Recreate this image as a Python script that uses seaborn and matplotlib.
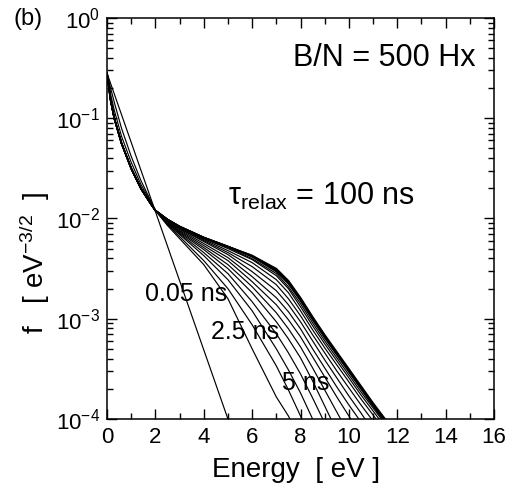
import numpy as np
import pandas as pd
import matplotlib
matplotlib.use("Agg")
import matplotlib.pyplot as plt
import seaborn as sns
from matplotlib.ticker import LogLocator, MultipleLocator, NullFormatter

# ---------------- data (log10 of f) ----------------
E_low = [0.0, 0.15, 0.3, 0.6, 1.0, 1.4, 1.8]
E_high = [2.0, 2.5, 3.0, 4.0, 5.0, 6.0, 7.0, 7.5, 8.0, 8.5, 9.0, 9.5, 10.0, 10.5, 11.0, 11.5, 12.0]

# 0.05 ns curve (nearly Maxwellian)
E_005 = [0.0, 1.0, 2.0, 3.0, 4.0, 5.0, 5.3]
lg_005 = [-0.55, -1.24, -1.93, -2.62, -3.31, -4.00, -4.21]

# low-energy parts
low_cluster = [-0.55, -0.82, -1.00, -1.25, -1.50, -1.70, -1.85]
low_c1 = [-0.55, -0.70, -0.84, -1.10, -1.38, -1.62, -1.82]
low_c2 = [-0.55, -0.76, -0.92, -1.18, -1.44, -1.66, -1.83]

# high-energy parts, from earliest (2.5 ns) to latest
hi_c1 = [-1.92, -2.07, -2.20, -2.46, -2.80, -3.30, -3.78, -3.97, -4.20]
hi_c2 = [-1.92, -2.06, -2.18, -2.42, -2.70, -3.06, -3.47, -3.71, -3.97, -4.25]
hi_c3 = [-1.92, -2.05, -2.16, -2.37, -2.61, -2.92, -3.30, -3.51, -3.74, -4.00, -4.28]
hi_c4 = [-1.92, -2.05, -2.15, -2.34, -2.55, -2.83, -3.15, -3.34, -3.55, -3.79, -4.04, -4.30]
hi_c5 = [-1.92, -2.04, -2.14, -2.31, -2.50, -2.74, -3.03, -3.20, -3.39, -3.62, -3.87, -4.12]
hi_c6 = [-1.92, -2.04, -2.13, -2.29, -2.46, -2.68, -2.94, -3.10, -3.28, -3.49, -3.71, -3.93, -4.15]
hi_c7 = [-1.92, -2.03, -2.12, -2.27, -2.42, -2.63, -2.86, -3.01, -3.18, -3.38, -3.58, -3.78, -3.97, -4.16]
hi_c8 = [-1.92, -2.03, -2.11, -2.25, -2.39, -2.58, -2.79, -2.93, -3.10, -3.30, -3.49, -3.68, -3.86, -4.03, -4.20]
hi_c9 = [-1.92, -2.02, -2.10, -2.23, -2.36, -2.53, -2.72, -2.86, -3.03, -3.22, -3.41, -3.59, -3.77, -3.94, -4.12]
hi_c10 = [-1.92, -2.02, -2.10, -2.22, -2.34, -2.48, -2.66, -2.80, -2.97, -3.16, -3.34, -3.52, -3.69, -3.86, -4.02, -4.20]
hi_c11 = [-1.92, -2.02, -2.09, -2.21, -2.32, -2.44, -2.61, -2.74, -2.92, -3.11, -3.29, -3.46, -3.63, -3.80, -3.96, -4.12]
hi_c12 = [-1.92, -2.01, -2.09, -2.20, -2.30, -2.41, -2.57, -2.70, -2.88, -3.07, -3.25, -3.42, -3.59, -3.76, -3.92, -4.08]
hi_c13 = [-1.92, -2.01, -2.08, -2.20, -2.29, -2.40, -2.55, -2.68, -2.85, -3.04, -3.22, -3.39, -3.56, -3.73, -3.89, -4.05]
hi_f1 = [-1.92, -2.01, -2.08, -2.19, -2.28, -2.38, -2.52, -2.64, -2.81, -3.00, -3.18, -3.35, -3.52, -3.69, -3.86, -4.02, -4.19]
hi_f2 = [-1.92, -2.01, -2.08, -2.19, -2.28, -2.37, -2.51, -2.63, -2.80, -2.99, -3.17, -3.34, -3.51, -3.68, -3.85, -4.01, -4.18]
hi_f3 = [-1.92, -2.01, -2.08, -2.19, -2.28, -2.38, -2.53, -2.65, -2.82, -3.01, -3.19, -3.36, -3.53, -3.70, -3.87, -4.03, -4.20]
hi_f4 = [-1.92, -2.01, -2.08, -2.19, -2.28, -2.37, -2.50, -2.62, -2.79, -2.98, -3.16, -3.33, -3.50, -3.67, -3.84, -4.00, -4.17]

# labels
label_b = "(b)"
label_field = "B/N = 500 Hx"
label_tau = r"τ$_{\mathrm{relax}}$ = 100 ns"
time_labels = ["0.05 ns", "2.5 ns", "5 ns"]

# ---------------- build long table ----------------
rows = []
def add(name, E, lg, group):
    for e, v in zip(E, lg):
        rows.append((name, e, 10.0 ** v, group))

add("0.05", E_005, lg_005, "thin")
add("c1", E_low + E_high[:len(hi_c1)], low_c1 + hi_c1, "thin")
add("c2", E_low + E_high[:len(hi_c2)], low_c2 + hi_c2, "thin")
for nm, hi in [("c3", hi_c3), ("c4", hi_c4), ("c5", hi_c5), ("c6", hi_c6),
               ("c7", hi_c7), ("c8", hi_c8), ("c9", hi_c9), ("c10", hi_c10),
               ("c11", hi_c11), ("c12", hi_c12), ("c13", hi_c13)]:
    add(nm, E_low + E_high[:len(hi)], low_cluster + hi, "thin")
for nm, hi in [("f1", hi_f1), ("f2", hi_f2), ("f3", hi_f3), ("f4", hi_f4)]:
    add(nm, E_low + E_high[:len(hi)], low_cluster + hi, "final")

df = pd.DataFrame(rows, columns=["curve", "E", "f", "group"])

# ---------------- style ----------------
sns.set_theme(style="ticks")
plt.rcParams.update({
    "font.family": ["Liberation Sans", "DejaVu Sans"],
    "mathtext.fontset": "custom",
    "mathtext.rm": "Liberation Sans",
    "mathtext.it": "Liberation Sans:italic",
    "mathtext.bf": "Liberation Sans:bold",
    "axes.unicode_minus": False,
    "axes.edgecolor": "black",
    "axes.linewidth": 1.1,
    "text.color": "black",
    "axes.labelcolor": "black",
    "xtick.color": "black",
    "ytick.color": "black",
})

fig = plt.figure(figsize=(5.13, 5.0), dpi=100)
ax = fig.add_axes([107 / 513, 1 - 419 / 500, 387 / 513, 401 / 500])

sns.lineplot(data=df[df.group == "thin"], x="E", y="f", units="curve", estimator=None,
             color="black", linewidth=0.85, sort=False, legend=False, ax=ax)
sns.lineplot(data=df[df.group == "final"], x="E", y="f", units="curve", estimator=None,
             color="black", linewidth=1.2, sort=False, legend=False, ax=ax)

ax.set_yscale("log")
ax.set_xlim(0, 16)
ax.set_ylim(1e-4, 1)
ax.xaxis.set_major_locator(MultipleLocator(2))
ax.xaxis.set_minor_locator(MultipleLocator(1))
ax.yaxis.set_major_locator(LogLocator(base=10, numticks=10))
ax.yaxis.set_minor_locator(LogLocator(base=10, subs=np.arange(2, 10), numticks=20))
ax.yaxis.set_minor_formatter(NullFormatter())

ax.tick_params(which="both", direction="in", top=True, right=True, width=1.0)
ax.tick_params(which="major", length=7, labelsize=16)
ax.tick_params(which="minor", length=4)
ax.tick_params(axis="x", which="major", pad=6)
ax.tick_params(axis="y", which="major", pad=5)

ax.set_xlabel("Energy  [ eV ]", fontsize=20)
ax.xaxis.set_label_coords(0.488, -0.095)
ax.set_ylabel(r"f   [ eV$^{-3/2}$  ]", fontsize=20)
ax.yaxis.set_label_coords(-0.143, 0.389)

# annotations
fig.text(28 / 513, 1 - 19 / 500, label_b, ha="center", va="center", fontsize=17)
ax.text(0.951, 0.900, label_field, transform=ax.transAxes,
        ha="right", va="center", fontsize=22)
ax.text(0.313, 0.534, label_tau, transform=ax.transAxes,
        ha="left", va="baseline", fontsize=22)
ax.text(0.098, 0.295, time_labels[0], transform=ax.transAxes,
        ha="left", va="baseline", fontsize=18)
ax.text(0.270, 0.199, time_labels[1], transform=ax.transAxes,
        ha="left", va="baseline", fontsize=18)
ax.text(0.451, 0.072, time_labels[2], transform=ax.transAxes,
        ha="left", va="baseline", fontsize=18)

fig.savefig("out.png", dpi=100)
